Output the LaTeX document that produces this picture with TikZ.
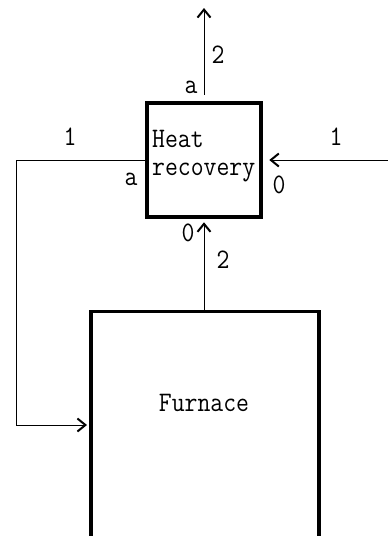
\documentclass[tikz,border=0pt]{standalone}
\usepackage{fontspec}
\usetikzlibrary{arrows.meta}
\newcommand\tallbox[1]{\scalebox{1}[1.13]{#1}}
\begin{document}
\begin{tikzpicture}[x=1pt,y=-1pt,
  box/.style={draw, line width=3.5pt, inner sep=0pt},
  flow/.style={line width=0.8pt},
  tip/.style={-{Straight Barb[length=8pt,width=13pt,line width=2pt]}},
  lab/.style={font=\fontsize{25}{28}\selectfont\ttfamily, inner sep=0pt}]
\useasboundingbox (0,0) rectangle (388,536);
\clip (0,0) rectangle (388,536);
% boxes
\node[box, minimum width=114pt, minimum height=114pt] (hr) at (204,160) {};
\node[lab, anchor=base west] (hrt1) at (152,147) {\tallbox{Heat}};
\node[lab, anchor=base west] (hrt2) at (152,175) {\tallbox{recovery}};
\node[draw=none, outer sep=0pt, inner sep=0pt, minimum width=228pt, minimum height=300pt] (furn) at (205,461.5) {};
\draw[line width=3.5pt] (furn.south west) -- (furn.north west) -- (furn.north east) -- (furn.south east);
\node[lab] (furnt) at (204,403) {\tallbox{Furnace}};
% coordinates
\coordinate (topend) at (204,8);
\coordinate (rin) at (388,160);
\coordinate (lc1) at (16,160);
\coordinate (lc2) at (16,425);
% connectors
\draw[flow,tip] ([yshift=6.5pt]hr.north) -- (topend);
\draw[flow,tip,shorten >=6.5pt] (rin) -- (hr.east);
\draw[flow,tip,shorten >=4pt] (hr.west) -- (lc1) -- (lc2) -- (lc2 -| furn.west);
\draw[flow,tip,shorten >=3.5pt] (hr.south |- furn.north) -- (hr.south);
% labels
\node[lab] (l2t) at (218,55) {\tallbox{2}};
\node[lab] (lat) at (191,87) {\tallbox{a}};
\node[lab] (l1l) at (70,137) {\tallbox{1}};
\node[lab] (lal) at (131,179) {\tallbox{a}};
\node[lab] (l1r) at (336,137) {\tallbox{1}};
\node[lab] (l0r) at (279,185) {\tallbox{0}};
\node[lab] (l0b) at (188,233) {\tallbox{0}};
\node[lab] (l2b) at (223,260) {\tallbox{2}};
\end{tikzpicture}
\end{document}
